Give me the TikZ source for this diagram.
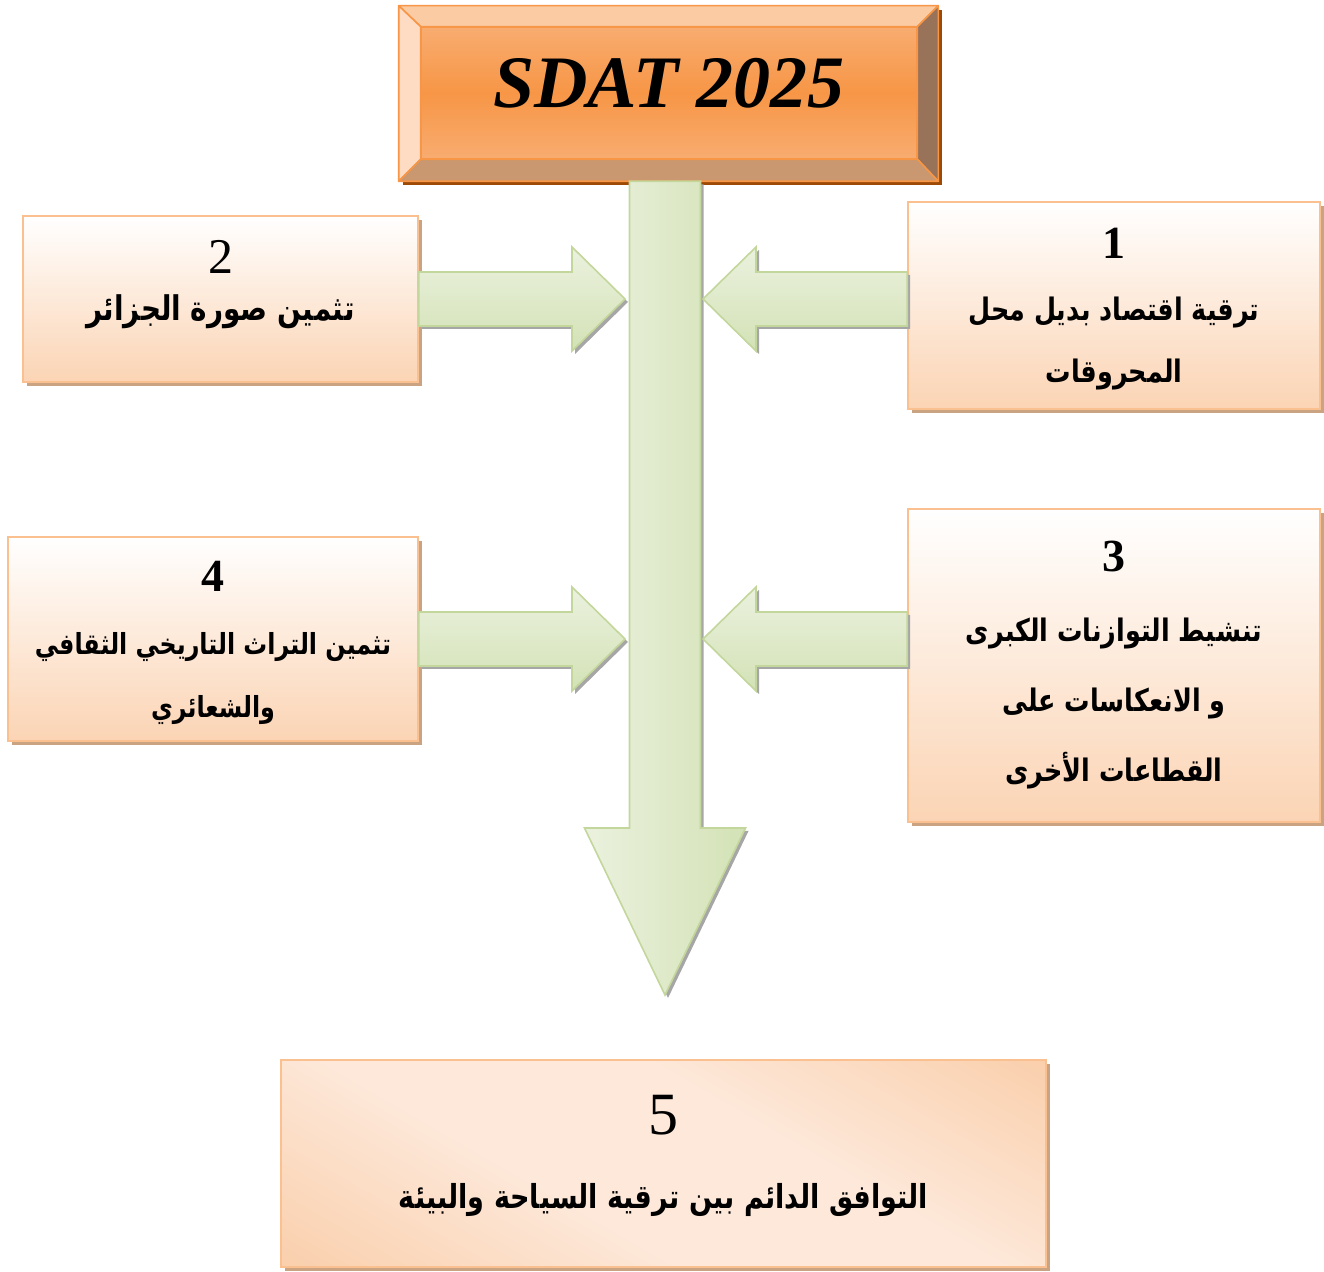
\documentclass[tikz,border=0pt]{standalone}
\usepackage{fontspec}
\setmainfont{Liberation Serif}
\newfontfamily\arab[Script=Arabic, FakeStretch=0.82]{DejaVu Sans}
\TeXXeTstate=1
\usetikzlibrary{calc,shadows}

\definecolor{orM}{HTML}{F79646}
\definecolor{orL}{HTML}{F9C29A}
\definecolor{bevT}{HTML}{FBCBA4}
\definecolor{bevL}{HTML}{FDDCC3}
\definecolor{bevR}{HTML}{98735A}
\definecolor{bevB}{HTML}{C99870}
\definecolor{plateshade}{HTML}{9C4A06}
\definecolor{peach}{HTML}{FBD4B4}
\definecolor{peachD}{HTML}{F8BF8F}
\definecolor{peachL}{HTML}{FDE8D9}
\definecolor{boxline}{HTML}{FAC090}
\definecolor{boxshade}{HTML}{C9A382}
\definecolor{grL}{HTML}{EBF1DE}
\definecolor{grD}{HTML}{D3E2B6}
\definecolor{grB}{HTML}{C3D69B}

\pgfdeclareverticalshading{orangebar}{100bp}{color(0bp)=(orL); color(50bp)=(orM); color(100bp)=(orL)}
\pgfdeclarehorizontalshading{peachband}{100bp}{color(0bp)=(peachD); color(40bp)=(peachL); color(60bp)=(peachL); color(100bp)=(peachD)}

\newcommand\ar[1]{\beginR#1\endR}
\newcommand\num[2][23]{{\rmfamily\bfseries\fontsize{#1}{#1}\selectfont #2}}
\newcommand\numr[2][25]{{\rmfamily\mdseries\fontsize{#1}{#1}\selectfont #2}}

\tikzset{
  plate/.style={shading=orangebar, draw=orM, line width=0.8pt, inner sep=0pt,
    minimum width=247.5pt, minimum height=65.5pt, text depth=10pt,
    font=\rmfamily\bfseries\itshape\fontsize{37}{37}\selectfont},
  bevel/.style={draw=orM, line width=0.8pt, line join=round},
  box/.style={draw=boxline, line width=0.8pt, top color=white, bottom color=peach,
    align=center, inner sep=0pt,
    drop shadow={shadow xshift=2.2pt, shadow yshift=-2.2pt, fill=boxshade, opacity=1}},
  greenarrow/.style={draw=grB, line width=0.8pt, top color=grL, bottom color=grD,
    drop shadow={shadow xshift=1.5pt, shadow yshift=-1.5pt, fill=black!35, opacity=1}},
  % block arrows, drawn as to paths between two points
  toright/.style={to path={let \p1=(\tikztostart), \p2=(\tikztotarget) in
    (\x1,\y1+13.5pt) -- (\x2-26.5pt,\y1+13.5pt) -- (\x2-26.5pt,\y1+26pt) -- (\x2,\y1)
    -- (\x2-26.5pt,\y1-26pt) -- (\x2-26.5pt,\y1-13.5pt) -- (\x1,\y1-13.5pt) -- cycle}},
  toleft/.style={to path={let \p1=(\tikztostart), \p2=(\tikztotarget) in
    (\x1,\y1+13.5pt) -- (\x2+26.5pt,\y1+13.5pt) -- (\x2+26.5pt,\y1+26pt) -- (\x2,\y1)
    -- (\x2+26.5pt,\y1-26pt) -- (\x2+26.5pt,\y1-13.5pt) -- (\x1,\y1-13.5pt) -- cycle}},
  todown/.style={to path={let \p1=(\tikztostart), \p2=(\tikztotarget) in
    (\x1-17.75pt,\y1) -- (\x1-17.75pt,\y2+83.5pt) -- (\x1-40.25pt,\y2+83.5pt) -- (\x2,\y2)
    -- (\x1+40.25pt,\y2+83.5pt) -- (\x1+17.75pt,\y2+83.5pt) -- (\x1+17.75pt,\y1) -- cycle}}
}

\begin{document}
\begin{tikzpicture}[x=0.5pt,y=-0.5pt]
  \path[use as bounding box] (0,0) rectangle (1324,1272);

  % title plate with bevelled frame
  \node[plate] (top) at (669,93) {SDAT 2025};
  \coordinate (o1) at ($(top.north west)+(-22,-21)$);
  \coordinate (o2) at ($(top.north east)+(21,-21)$);
  \coordinate (o3) at ($(top.south east)+(21,22)$);
  \coordinate (o4) at ($(top.south west)+(-22,22)$);
  \fill[plateshade] ($(o4)+(4,0)$) rectangle ($(o3)+(4,4)$);
  \fill[plateshade] ($(o2)+(0,4)$) rectangle ($(o3)+(4,4)$);
  \filldraw[bevel, fill=bevT] (o1) -- (o2) -- (top.north east) -- (top.north west) -- cycle;
  \filldraw[bevel, fill=bevL] (o1) -- (top.north west) -- (top.south west) -- (o4) -- cycle;
  \filldraw[bevel, fill=bevR] (o2) -- (o3) -- (top.south east) -- (top.north east) -- cycle;
  \filldraw[bevel, fill=bevB] (o4) -- (top.south west) -- (top.south east) -- (o3) -- cycle;

  % objective boxes
  \node[box, minimum width=206pt, minimum height=103.5pt, text depth=-5pt,
    font=\arab\bfseries\fontsize{15.5}{31}\selectfont] (b1) at (1114,305.5)
    {\num{1}\\ \ar{ترقية اقتصاد بديل محل}\\ \ar{المحروقات}};
  \node[box, minimum width=197.5pt, minimum height=83pt, text depth=19pt,
    font=\arab\bfseries\fontsize{17}{23.5}\selectfont] (b2) at (220.5,299)
    {\numr{2}\\ \ar{تثمين صورة الجزائر}};
  \node[box, minimum width=206pt, minimum height=156.5pt,
    font=\arab\bfseries\fontsize{15.5}{35}\selectfont] (b3) at (1114,665.5)
    {\num{3}\\ \ar{تنشيط التوازنات الكبرى}\\ \ar{و الانعكاسات على}\\ \ar{القطاعات الأخرى}};
  \node[box, minimum width=205pt, minimum height=102pt, text depth=-2pt,
    font=\arab\bfseries\fontsize{14.5}{31.5}\selectfont] (b4) at (213,639)
    {\num{4}\\ \ar{تثمين التراث التاريخي الثقافي}\\ \ar{والشعائري}};

  % spine arrow and the four feeding arrows
  \coordinate (tip) at (665,995);
  \coordinate (t1) at ($(b2.east -| tip)+(38,0)$);
  \coordinate (t2) at ($(b2.east -| tip)+(-40,0)$);
  \coordinate (t3) at ($(b4.east -| tip)+(38,0)$);
  \coordinate (t4) at ($(b4.east -| tip)+(-40,0)$);
  \path (tip |- o4) edge[greenarrow, todown, left color=grL, right color=grD] (tip);
  \path (b2.east) edge[greenarrow, toright] (t2)
        (b4.east) edge[greenarrow, toright] (t4)
        (b1.west |- t1) edge[greenarrow, toleft] (t1)
        (b3.west |- t3) edge[greenarrow, toleft] (t3);

  % result box
  \node[box, shading=peachband, shading angle=60, minimum width=382.5pt, minimum height=103.5pt,
    text depth=12pt, font=\arab\bfseries\fontsize{16.5}{37}\selectfont] (b5) at (663.5,1163.5)
    {\numr[30]{5}\\ \ar{التوافق الدائم بين ترقية السياحة والبيئة}};
\end{tikzpicture}
\end{document}
